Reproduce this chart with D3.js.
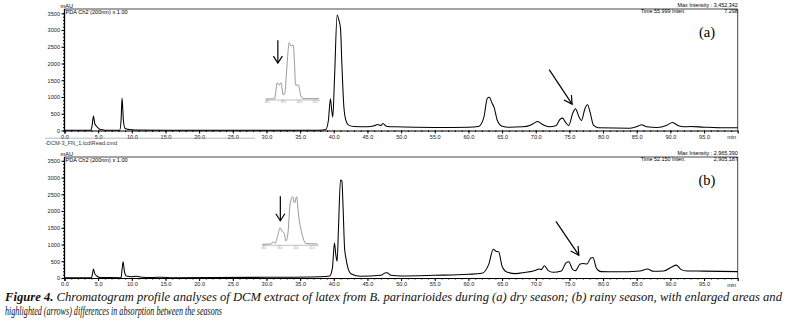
<!DOCTYPE html>
<html><head><meta charset="utf-8">
<script src="https://cdn.jsdelivr.net/npm/d3@7"></script>
<style>body{margin:0;background:#fff} svg{display:block}</style>
</head><body><svg id="c" width="787" height="328"></svg>
<script>
// ---------- data (time in min, absorbance in mAU) ----------
const traceA = [[0,5],[3.9,5],[4.1,150],[4.3,430],[4.5,200],[4.8,120],[5.2,40],[5.6,20],[6,10],[8.2,10],[8.4,300],[8.55,970],[8.75,300],[9.0,60],[9.6,30],[10.5,15],[15,8],[30,5],[38,10],[38.8,30],[39.2,300],[39.5,950],[39.7,600],[39.85,400],[40.1,1500],[40.5,3450],[40.75,3300],[41.0,3050],[41.2,2000],[41.5,700],[41.8,300],[42.2,160],[43,120],[45,110],[46,140],[46.5,180],[47,150],[47.3,210],[47.8,130],[49,110],[55,90],[60,100],[61.5,120],[62.3,400],[62.8,960],[63.1,990],[63.5,820],[63.8,700],[64.3,300],[65,130],[66,100],[68,110],[69.2,160],[69.6,200],[70.3,270],[71,180],[72,110],[73,140],[73.6,330],[74,370],[74.4,250],[74.9,150],[75.5,520],[75.9,650],[76.4,420],[76.8,300],[77.3,650],[77.7,770],[78.1,520],[78.6,150],[79.3,80],[84,70],[85.3,140],[85.7,170],[86.5,110],[88,90],[89.5,160],[90.3,240],[91.2,140],[92,110],[93,120],[95,100],[98,80],[100,80]];
const traceB = [[0,5],[4.0,5],[4.15,120],[4.3,267],[4.5,130],[4.8,60],[5.3,15],[8.4,10],[8.55,250],[8.7,484],[8.9,200],[9.2,60],[10,40],[10.7,50],[11.5,20],[13,15],[14.5,25],[16,10],[30,20],[38,40],[39.4,60],[39.8,300],[40.1,1047],[40.3,700],[40.5,500],[40.7,1500],[41.0,2928],[41.2,2900],[41.4,2000],[41.6,900],[41.8,600],[42.1,300],[42.6,120],[44,50],[47,80],[47.6,150],[47.9,157],[48.5,80],[50,60],[55,80],[60,110],[62,140],[63,400],[63.7,860],[64.1,800],[64.5,780],[65,350],[65.7,180],[67,130],[68.5,170],[69.5,200],[70,230],[70.5,267],[70.8,250],[71.3,365],[71.8,230],[72.6,170],[73.8,210],[74.5,450],[74.9,484],[75.5,250],[75.9,220],[76.6,420],[77.0,435],[77.6,420],[78.2,600],[78.5,614],[79,300],[79.7,190],[82,185],[85.5,210],[86.6,267],[87.5,200],[89,210],[90.2,330],[90.9,385],[91.6,250],[92.5,210],[95,205],[100,190]];
const insetA = [[37.94,0],[38.5,10],[38.56,368],[38.66,999],[38.79,858],[38.89,999],[39.04,245],[39.14,386],[39.25,1777],[39.41,3450],[39.52,3248],[39.66,3309],[39.73,2390],[39.81,858],[39.98,858],[40.14,184],[40.27,20],[41.27,20]];
const insetB = [[37.94,0],[38.48,20],[38.62,160],[38.73,49],[38.91,572],[39.04,1021],[39.16,818],[39.29,695],[39.41,203],[39.54,757],[39.66,2417],[39.83,2928],[39.94,2540],[40.07,2928],[40.19,1802],[40.39,695],[40.47,388],[40.65,49],[41.38,20]];
const yTickValues = [0,500,1000,1500,2000,2500,3000,3500];
const xTickValues = [0,5,10,15,20,25,30,35,40,45,50,55,60,65,70,75,80,85,90,95];
const insetTickValues = [38,39,40,41];
const headerA = ["3,452,342","55.999","7.298"];
const headerB = ["2,965,390","52.150","2,905,187"];
// arrows in data coordinates: [t1,v1,t2,v2]
const arrowA = [72.0,1816,75.4,787];
const arrowB = [73.0,1690,76.4,682];
const insetArrowA = [38.7,3600,38.7,2200];
const insetArrowB = [39.06,2950,39.06,1450];

// ---------- drawing ----------
const svg = d3.select("#c");
const SANS = "'Liberation Sans', Arial, sans-serif";
const SERIF = "'Liberation Serif', 'Times New Roman', serif";

const panels = [
  {trace:traceA, inset:insetA, head:headerA, arrow:arrowA, iarrow:insetArrowA, label:"(a)",
   y0:130.5, y3500:13.3, top:9, ix:[265.7,319], iy0:99, ipk:42.7, ipkv:3450},
  {trace:traceB, inset:insetB, head:headerB, arrow:arrowB, iarrow:insetArrowB, label:"(b)",
   y0:278, y3500:160.8, top:157, ix:[262.3,317.7], iy0:244.3, ipk:196.7, ipkv:2928}
];

const x = d3.scaleLinear().domain([0,100]).range([64.5,737.7]);

function arrow(g, x1,y1,x2,y2, hl, hw){
  g.append("line").attr("x1",x1).attr("y1",y1).attr("x2",x2).attr("y2",y2)
    .attr("stroke","#000").attr("stroke-width",1.2);
  const a = Math.atan2(y2-y1,x2-x1);
  const p = (s)=>[x2 - hl*Math.cos(a) + s*hw*Math.sin(a), y2 - hl*Math.sin(a) - s*hw*Math.cos(a)];
  const l = p(1), r = p(-1);
  g.append("path").attr("d",`M${l[0]},${l[1]}L${x2},${y2}L${r[0]},${r[1]}`)
    .attr("fill","none").attr("stroke","#000").attr("stroke-width",1.2);
}

panels.forEach((P,i)=>{
  const g = svg.append("g");
  const y = d3.scaleLinear().domain([0,3500]).range([P.y0,P.y3500]);
  // frame top & right
  g.append("path").attr("d",`M${x(0)},${P.top}H${x(100)}V${P.y0}`)
    .attr("fill","none").attr("stroke","#333").attr("stroke-width",0.9);

  // inset
  const ix = d3.scaleLinear().domain([P.inset[0][0], P.inset[P.inset.length-1][0]]).range(P.ix);
  const iy = d3.scaleLinear().domain([0,P.ipkv]).range([P.iy0,P.ipk]);
  g.append("path").datum(P.inset)
    .attr("d", d3.line().x(d=>ix(d[0])).y(d=>iy(d[1])).curve(d3.curveMonotoneX))
    .attr("fill","none").attr("stroke","#8c8c8c").attr("stroke-width",0.9);
  const iax = g.append("g").attr("transform",`translate(0,${P.iy0+0.5})`)
    .call(d3.axisBottom(ix).tickValues(insetTickValues).tickSize(1.2).tickPadding(0.8).tickFormat(d3.format(".1f")));
  iax.select(".domain").attr("stroke","#999").attr("stroke-width",0.6);
  iax.selectAll(".tick line").attr("stroke","#999").attr("stroke-width",0.5);
  iax.selectAll("text").attr("font-size",2.6).attr("font-family",SANS).attr("fill","#999");
  const ia = P.iarrow;
  arrow(g, ix(ia[0]), iy(ia[1]), ix(ia[2]), iy(ia[3]), 7, 4.5);

  // main trace
  g.append("path").datum(P.trace)
    .attr("d", d3.line().x(d=>x(d[0])).y(d=>y(d[1])).curve(d3.curveMonotoneX))
    .attr("fill","none").attr("stroke","#000").attr("stroke-width",1.05);

  // y axis
  const ya = g.append("g").attr("transform",`translate(${x(0)},0)`)
    .call(d3.axisLeft(y).tickValues(yTickValues).tickSize(3).tickPadding(1.5).tickFormat(d3.format("d")));
  ya.select(".domain").remove();
  ya.selectAll("text").attr("font-size",5.6).attr("font-family",SANS).attr("fill","#222");
  g.append("g").attr("transform",`translate(${x(0)},0)`)
    .call(d3.axisLeft(y).tickValues(d3.range(0,3600,100)).tickSize(1.5).tickFormat(""))
    .select(".domain").remove();
  g.append("line").attr("x1",x(0)).attr("x2",x(0)).attr("y1",P.top).attr("y2",P.y0)
    .attr("stroke","#000").attr("stroke-width",1.3);

  // x axis
  const xa = g.append("g").attr("transform",`translate(0,${P.y0})`)
    .call(d3.axisBottom(x).tickValues(xTickValues).tickSize(3).tickPadding(1.2).tickFormat(d3.format(".1f")));
  xa.select(".domain").attr("stroke","#000").attr("stroke-width",1.2);
  xa.selectAll("text").attr("font-size",5.6).attr("font-family",SANS).attr("fill","#222");
  g.append("g").attr("transform",`translate(0,${P.y0})`)
    .call(d3.axisBottom(x).tickValues(d3.range(0,100,1)).tickSize(1.5).tickFormat(""))
    .select(".domain").remove();
  g.append("text").attr("x",x(100)-6).attr("y",P.y0+8.5).attr("font-size",5.6)
    .attr("font-family",SANS).attr("fill","#222").attr("text-anchor","middle").text("min");

  // headers
  g.append("text").attr("x",x(0)-4).attr("y",P.top-1).attr("font-size",5.6).attr("font-family",SANS).text("mAU");
  g.append("text").attr("x",x(0)+1).attr("y",P.top+5).attr("font-size",5.6).attr("font-family",SANS).text("PDA Ch2 (200nm) x 1.00");
  g.append("text").attr("x",x(100)).attr("y",P.top-2.3).attr("font-size",5.4).attr("font-family",SANS)
    .attr("text-anchor","end").text("Max Intensity : " + P.head[0]);
  g.append("text").attr("x",x(100)-97).attr("y",P.top+4).attr("font-size",5.4).attr("font-family",SANS)
    .text("Time    " + P.head[1] + "    Inten.");
  g.append("text").attr("x",x(100)).attr("y",P.top+4).attr("font-size",5.4).attr("font-family",SANS)
    .attr("text-anchor","end").text(P.head[2]);
  g.append("text").attr("x",707).attr("y",P.top+28).attr("font-size",14.5).attr("font-family",SERIF)
    .attr("text-anchor","middle").text(P.label);

  // main arrow
  const a = P.arrow;
  arrow(g, x(a[0]), y(a[1]), x(a[2]), y(a[3]), 8, 4.5);
});

// file label between panels
svg.append("line").attr("x1",45).attr("x2",255).attr("y1",138.2).attr("y2",138.2).attr("stroke","#888").attr("stroke-width",0.6);
svg.append("text").attr("x",45).attr("y",145).attr("font-size",5.6).attr("font-family",SANS).attr("fill","#333")
  .text("-DCM-3_FN_1.lcd\\Read.cmd");

// caption
const cap = svg.append("g").attr("font-family",SERIF).attr("font-size",12.5).attr("font-style","italic").attr("fill","#111");
const t1 = cap.append("text").attr("x",5).attr("y",300.5).attr("textLength",777).attr("lengthAdjust","spacingAndGlyphs");
t1.append("tspan").attr("font-weight","bold").text("Figure 4.");
t1.append("tspan").text(" Chromatogram profile analyses of DCM extract of latex from B. parinarioides during (a) dry season; (b) rainy season, with enlarged areas and");
cap.append("text").attr("x",5).attr("y",314.5).attr("textLength",217).attr("lengthAdjust","spacingAndGlyphs")
  .text("highlighted (arrows) differences in absorption between the seasons");
</script></body></html>
